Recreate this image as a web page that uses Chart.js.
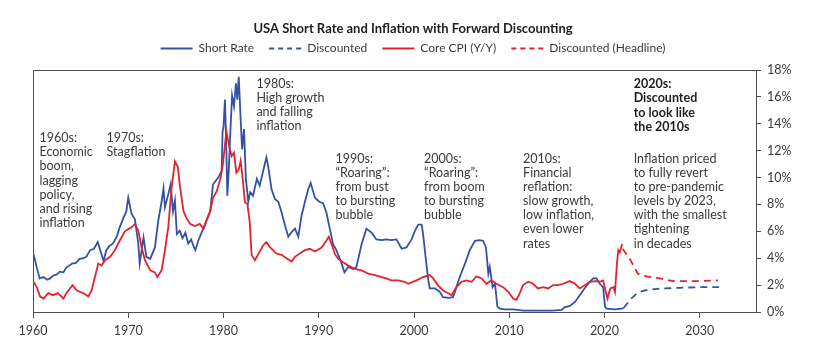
<!DOCTYPE html>
<html>
<head>
<meta charset="utf-8">
<script src="https://cdn.jsdelivr.net/npm/chart.js@4.4.0/dist/chart.umd.min.js"></script>
<style>
  html, body { margin: 0; padding: 0; background: #ffffff; }
  #wrap { width: 840px; height: 347px; position: relative; }
</style>
</head>
<body>
<div id="wrap"><canvas id="c" width="840" height="347"></canvas></div>
<script>
// ---------- DATA ----------
const chartTitle = 'USA Short Rate and Inflation with Forward Discounting';
const seriesNames = ['Short Rate', 'Discounted', 'Core CPI (Y/Y)', 'Discounted (Headline)'];

const xTickValues = [1960, 1970, 1980, 1990, 2000, 2010, 2020, 2030];
const xTickLabels = ['1960', '1970', '1980', '1990', '2000', '2010', '2020', '2030'];
const yTickValues = [0, 2, 4, 6, 8, 10, 12, 14, 16, 18];
const yTickLabels = ['0%', '2%', '4%', '6%', '8%', '10%', '12%', '14%', '16%', '18%'];

// [year, percent]
const shortRate = [
  [1960.0,4.4],[1960.2,3.9],[1960.4,3.3],[1960.7,2.5],[1961.1,2.6],[1961.5,2.4],[1961.8,2.5],
  [1962.1,2.7],[1962.5,2.8],[1962.8,3.0],[1963.2,2.95],[1963.5,3.3],[1963.8,3.45],[1964.1,3.6],
  [1964.5,3.65],[1964.9,3.95],[1965.3,4.0],[1965.6,4.1],[1966.0,4.6],[1966.4,4.7],[1966.8,5.2],
  [1967.1,4.5],[1967.4,3.8],[1967.7,4.6],[1968.0,4.9],[1968.4,5.1],[1968.8,5.6],[1969.1,6.3],
  [1969.5,7.0],[1969.8,7.5],[1970.0,8.5],[1970.35,7.3],[1970.7,6.9],[1971.05,5.1],[1971.2,3.6],
  [1971.6,5.55],[1971.9,4.1],[1972.3,3.95],[1972.8,4.8],[1973.15,6.8],[1973.5,8.2],[1973.7,9.2],
  [1973.85,7.8],[1974.2,8.75],[1974.45,9.5],[1974.7,7.5],[1974.9,8.3],[1975.1,5.8],[1975.4,6.05],
  [1975.7,5.5],[1976.0,5.9],[1976.3,5.1],[1976.6,5.4],[1976.9,4.8],[1977.05,4.6],[1977.35,5.3],
  [1977.7,5.9],[1978.05,6.5],[1978.6,7.5],[1978.9,9.5],[1979.45,10.0],[1979.8,10.5],[1979.9,13.4],
  [1980.0,13.8],[1980.15,15.8],[1980.3,12.0],[1980.4,8.65],[1980.55,10.5],[1980.7,13.1],[1980.9,16.1],
  [1981.1,15.3],[1981.3,17.0],[1981.45,15.8],[1981.6,17.5],[1981.8,14.3],[1981.95,12.1],[1982.15,13.6],
  [1982.35,9.9],[1982.6,8.2],[1982.8,8.9],[1983.1,8.65],[1983.5,9.9],[1983.8,9.4],[1984.2,10.6],
  [1984.5,11.5],[1984.7,10.8],[1985.05,9.1],[1985.4,8.4],[1985.75,8.2],[1986.1,7.4],[1986.45,6.45],
  [1986.8,5.6],[1987.15,5.95],[1987.5,6.2],[1987.85,5.6],[1988.2,7.2],[1988.55,8.2],[1988.9,9.15],
  [1989.15,9.6],[1989.6,8.5],[1990.05,8.2],[1990.45,8.1],[1990.8,7.4],[1991.2,6.05],[1991.5,5.05],
  [1991.85,4.6],[1992.4,3.6],[1992.7,2.95],[1993.1,3.35],[1993.6,3.2],[1993.95,3.35],[1994.5,5.05],
  [1995.0,6.2],[1995.55,5.9],[1996.05,5.4],[1996.6,5.35],[1997.1,5.4],[1997.6,5.35],[1998.15,5.4],
  [1998.7,4.7],[1999.2,4.8],[1999.75,5.4],[2000.1,6.05],[2000.45,6.5],[2000.8,6.5],[2000.95,5.8],
  [2001.25,3.85],[2001.5,2.35],[2001.65,1.75],[2002.2,1.75],[2002.7,1.5],[2003.05,1.1],[2003.6,1.05],
  [2004.1,1.1],[2004.45,1.85],[2004.8,2.6],[2005.35,3.6],[2005.85,4.6],[2006.4,5.3],[2006.9,5.35],
  [2007.25,5.3],[2007.55,4.8],[2007.8,2.85],[2007.95,3.35],[2008.25,1.85],[2008.5,2.1],[2008.75,0.4],
  [2009.0,0.25],[2009.5,0.2],[2010.4,0.2],[2011.5,0.1],[2013.0,0.1],[2014.5,0.1],[2015.5,0.15],
  [2015.8,0.35],[2016.35,0.45],[2016.9,0.75],[2017.4,1.25],[2017.9,1.75],[2018.45,2.25],[2018.8,2.5],
  [2019.15,2.5],[2019.5,2.1],[2019.85,1.85],[2020.05,0.4],[2020.2,0.25],[2021.1,0.2],[2021.8,0.25],
  [2022.0,0.3]
];

const shortRateDiscounted = [
  [2022.0,0.3],[2022.8,1.0],[2023.5,1.45],[2024.2,1.6],[2025.8,1.75],[2027.9,1.8],[2030.0,1.85],[2032.0,1.85]
];

const coreCPI = [
  [1960.0,2.3],[1960.4,1.85],[1960.75,1.15],[1961.1,1.0],[1961.6,1.4],[1962.1,1.25],[1962.6,1.4],
  [1963.2,1.0],[1963.5,1.4],[1964.15,2.0],[1964.6,1.6],[1965.3,1.4],[1965.8,1.15],[1966.15,1.6],
  [1966.5,2.6],[1966.85,3.6],[1967.2,3.45],[1967.55,3.85],[1968.1,4.1],[1968.6,4.6],[1969.1,5.3],
  [1969.65,6.0],[1970.1,6.2],[1970.35,6.3],[1970.7,6.55],[1971.05,6.05],[1971.4,4.8],[1971.75,3.85],
  [1972.3,3.1],[1972.8,2.95],[1973.05,2.6],[1973.5,3.1],[1973.85,4.6],[1974.2,6.3],[1974.55,9.25],
  [1974.9,11.2],[1975.2,10.8],[1975.4,9.5],[1975.8,7.5],[1976.1,7.0],[1976.5,6.55],[1977.0,6.4],
  [1977.5,6.55],[1977.9,6.2],[1978.2,6.8],[1978.6,7.5],[1978.9,8.5],[1979.3,9.0],[1979.7,10.0],
  [1979.95,11.1],[1980.3,13.45],[1980.6,12.3],[1980.85,11.6],[1981.1,11.85],[1981.35,10.35],[1981.6,10.6],
  [1981.8,11.25],[1982.05,9.65],[1982.25,8.15],[1982.5,8.05],[1982.75,6.7],[1982.95,4.25],[1983.3,3.85],
  [1983.6,4.25],[1984.15,4.95],[1984.5,5.2],[1984.85,4.85],[1985.2,4.6],[1985.55,4.35],[1986.1,4.25],
  [1986.6,4.0],[1987.15,3.75],[1987.5,4.1],[1988.0,4.35],[1988.55,4.6],[1989.05,4.7],[1989.6,4.5],
  [1990.3,4.8],[1990.8,5.3],[1991.05,5.6],[1991.35,5.05],[1991.7,4.3],[1992.05,3.95],[1992.55,3.7],
  [1993.1,3.45],[1993.8,3.2],[1994.5,3.1],[1995.2,2.85],[1995.9,2.75],[1996.6,2.6],[1997.1,2.5],
  [1997.6,2.35],[1998.35,2.35],[1999.0,2.25],[1999.4,2.1],[2000.25,2.35],[2000.95,2.6],[2001.65,2.75],
  [2002.0,2.5],[2002.5,2.0],[2003.05,1.6],[2003.6,1.4],[2003.95,1.25],[2004.45,1.85],[2005.0,2.25],
  [2005.5,2.35],[2006.05,2.25],[2006.55,2.65],[2007.1,2.5],[2007.6,2.1],[2008.1,2.35],[2008.65,2.1],
  [2009.35,1.85],[2009.9,1.5],[2010.4,1.0],[2010.75,0.9],[2011.1,1.4],[2011.45,2.0],[2012.0,2.25],
  [2012.5,2.1],[2013.0,1.75],[2013.55,1.85],[2014.1,1.75],[2014.6,2.0],[2015.1,2.0],[2015.65,2.1],
  [2016.35,2.3],[2016.9,2.1],[2017.4,1.75],[2017.95,2.0],[2018.45,2.25],[2019.0,2.3],[2019.5,2.25],
  [2019.85,2.35],[2020.1,1.6],[2020.3,1.0],[2020.6,1.75],[2020.95,1.85],[2021.1,1.5],[2021.3,3.6],
  [2021.45,4.6],[2021.6,4.45],[2021.85,5.05]
];

const headlineDiscounted = [
  [2021.9,4.7],[2022.65,3.95],[2023.5,2.85],[2024.4,2.65],[2025.8,2.5],[2027.2,2.3],[2028.6,2.3],[2030.0,2.3],[2031.9,2.35]
];

const annotationTexts = [
  { x: 1960.68, y: 12.93, bold: false, lines: ['1960s:', 'Economic', 'boom,', 'lagging', 'policy,', 'and rising', 'inflation'] },
  { x: 1967.71, y: 12.93, bold: false, lines: ['1970s:', 'Stagflation'] },
  { x: 1983.45, y: 16.98, bold: false, lines: ['1980s:', 'High growth', 'and falling', 'inflation'] },
  { x: 1991.76, y: 11.41, bold: false, lines: ['1990s:', '\u201CRoaring\u201D:', 'from bust', 'to bursting', 'bubble'] },
  { x: 2001.06, y: 11.41, bold: false, lines: ['2000s:', '\u201CRoaring\u201D:', 'from boom', 'to bursting', 'bubble'] },
  { x: 2011.45, y: 11.41, bold: false, lines: ['2010s:', 'Financial', 'reflation:', 'slow growth,', 'low inflation,', 'even lower', 'rates'] },
  { x: 2023.06, y: 16.94, bold: true,  lines: ['2020s:', 'Discounted', 'to look like', 'the 2010s'] },
  { x: 2023.06, y: 11.41, bold: false, lines: ['Inflation priced', 'to fully revert', 'to pre-pandemic', 'levels by 2023,', 'with the smallest', 'tightening', 'in decades'] }
];

// ---------- STYLE ----------
const BLUE = '#3352a3';
const RED = '#e3232c';
const AXIS = '#4d4d4d';
const TEXT = '#3a3a3a';
const FONT = 'Lato';
const X_MIN = 1960, X_MAX = 2035.9;

const toXY = arr => arr.map(p => ({ x: p[0], y: p[1] }));

const annotationPlugin = {
  id: 'decadeNotes',
  afterDatasetsDraw(chart) {
    const ctx = chart.ctx;
    const xs = chart.scales.x, ys = chart.scales.y;
    ctx.save();
    ctx.textAlign = 'left';
    ctx.textBaseline = 'middle';
    annotationTexts.forEach(a => {
      ctx.font = (a.bold ? 'bold ' : '') + '12.5px ' + FONT;
      ctx.fillStyle = a.bold ? '#1e1e1e' : TEXT;
      const px = xs.getPixelForValue(a.x);
      const py = ys.getPixelForValue(a.y);
      a.lines.forEach((t, i) => ctx.fillText(t, px, py + i * 14.15));
    });
    ctx.restore();
  }
};

function build() {
  new Chart(document.getElementById('c'), {
    type: 'line',
    data: {
      datasets: [
        { label: seriesNames[0], data: toXY(shortRate), borderColor: BLUE, backgroundColor: BLUE, borderWidth: 1.8, pointRadius: 0, order: 4 },
        { label: seriesNames[1], data: toXY(shortRateDiscounted), borderColor: BLUE, backgroundColor: BLUE, borderWidth: 1.8, borderDash: [7, 5], pointRadius: 0, order: 3 },
        { label: seriesNames[2], data: toXY(coreCPI), borderColor: RED, backgroundColor: RED, borderWidth: 1.8, pointRadius: 0, order: 2 },
        { label: seriesNames[3], data: toXY(headlineDiscounted), borderColor: RED, backgroundColor: RED, borderWidth: 1.8, borderDash: [7, 5], pointRadius: 0, order: 1 }
      ]
    },
    options: {
      responsive: false,
      animation: false,
      devicePixelRatio: 1,
      parsing: false,
      layout: { padding: { left: 33, right: 47, top: 0, bottom: 0 } },
      plugins: {
        tooltip: { enabled: false },
        title: {
          display: true,
          text: chartTitle,
          color: '#1e1e1e',
          font: { family: FONT, size: 13, weight: 'bold', lineHeight: 1 },
          padding: { top: 22, bottom: -7.5 }
        },
        legend: {
          display: true,
          labels: {
            usePointStyle: true,
            pointStyle: 'line',
            pointStyleWidth: 32,
            padding: 15,
            color: TEXT,
            font: { family: FONT, size: 12 },
            sort: (a, b) => a.datasetIndex - b.datasetIndex,
            generateLabels: chart => {
              const items = Chart.defaults.plugins.legend.labels.generateLabels(chart);
              return items.map(it => {
                const ds = chart.data.datasets[it.datasetIndex];
                it.lineDash = ds.borderDash ? [5, 4] : [];
                it.lineWidth = 2;
                it.strokeStyle = ds.borderColor;
                it.fillStyle = ds.borderColor;
                it.pointStyle = 'line';
                return it;
              });
            }
          }
        }
      },
      scales: {
        x: {
          type: 'linear',
          position: 'bottom',
          min: X_MIN, max: X_MAX,
          afterBuildTicks: s => { s.ticks = xTickValues.map(v => ({ value: v })); },
          afterFit: s => { s.height = 35; },
          ticks: {
            autoSkip: false,
            maxRotation: 0,
            padding: 5,
            color: TEXT,
            font: { family: FONT, size: 12.5 },
            callback: (v, i) => xTickLabels[i]
          },
          grid: { display: true, drawOnChartArea: false, drawTicks: true, tickLength: 6, color: AXIS },
          border: { display: true, color: AXIS, width: 1 }
        },
        xTop: {
          type: 'linear',
          position: 'top',
          min: X_MIN, max: X_MAX,
          afterFit: s => { s.height = 5.5; },
          ticks: { display: false },
          grid: { display: false },
          border: { display: true, color: AXIS, width: 1 }
        },
        yLeft: {
          type: 'linear',
          position: 'left',
          min: 0, max: 18,
          afterFit: s => { s.width = 0; },
          ticks: { display: false },
          grid: { display: false },
          border: { display: true, color: AXIS, width: 1 }
        },
        y: {
          type: 'linear',
          position: 'right',
          min: 0, max: 18,
          afterBuildTicks: s => { s.ticks = yTickValues.map(v => ({ value: v })); },
          afterFit: s => { s.width = 37; },
          ticks: {
            padding: 6,
            color: TEXT,
            font: { family: FONT, size: 12.5 },
            callback: (v, i) => yTickLabels[i]
          },
          grid: { display: true, drawOnChartArea: false, drawTicks: true, tickLength: 5, color: AXIS },
          border: { display: true, color: AXIS, width: 1 }
        }
      }
    },
    plugins: [annotationPlugin]
  });
}

if (document.fonts && document.fonts.load) {
  Promise.all([
    document.fonts.load('12.5px Lato'),
    document.fonts.load('bold 12.5px Lato'),
    document.fonts.load('bold 13px Lato')
  ]).then(build, build);
} else {
  build();
}
</script>
</body>
</html>
